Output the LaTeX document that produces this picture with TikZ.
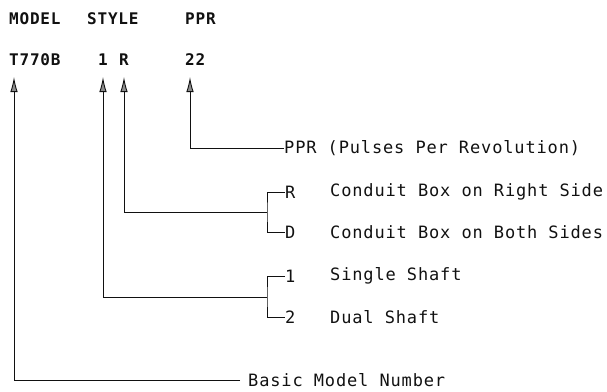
\documentclass[tikz,border=0pt]{standalone}
\usepackage{fontspec}
\usepackage{tikz}
\usetikzlibrary{positioning,arrows.meta,calc}
\newfontfamily\dotfont[LetterSpace=5]{DejaVu Sans Mono}
\newfontfamily\headfont[LetterSpace=5]{DejaVu Sans Mono Bold}
\definecolor{ink}{HTML}{111111}
\definecolor{tipfill}{HTML}{8C8C8C}

\begin{document}
\begin{tikzpicture}[x=1pt,y=1pt,font=\dotfont\fontsize{17}{19}\selectfont,
  head/.style={anchor=west,inner sep=0pt,font=\headfont\fontsize{16}{18}\selectfont,text=ink},
  code/.style={anchor=west,inner sep=0pt,text=ink},
  ln/.style={draw=ink,line width=0.9pt},
  ar/.style={ln,-{Latex[length=15pt,width=7.5pt,fill=tipfill]}}]
\useasboundingbox (0,0) rectangle (607,-391);
% header row and example code
\node[head] (hmodel) at (9,-19) {MODEL};
\node[head] (hstyle) at (87,-19) {STYLE};
\node[head] (hppr) at (185,-19) {PPR};
\node[head] (model) at (9,-60) {T770B};
\node[head] (sty1) at (98,-60) {1};
\node[head] (styR) at (119,-60) {R};
\node[head] (pprv) at (185,-60) {22};
\coordinate (tmodel) at (14,-77);
\coordinate (tsty1) at (103,-77);
\coordinate (tstyR) at (124,-77);
\coordinate (tppr) at (190,-77);
% option labels
\node[code] (pprtxt) at (284,-148) {PPR (Pulses Per Revolution)};
\node[code] (optR) at (285,-192) {R};
\node[code] (optD) at (285,-232) {D};
\node[code] (opt1) at (285,-276) {1};
\node[code] (opt2) at (285,-317) {2};
\node[code] (descR) at (330,-192) {Conduit Box on Right Side};
\node[code] (descD) at (330,-232) {Conduit Box on Both Sides};
\node[code] (desc1) at (330,-276) {Single Shaft};
\node[code] (desc2) at (330,-317) {Dual Shaft};
\node[code,inner xsep=8pt] (basic) at (240,-380) {Basic Model Number};
\coordinate (brR) at (267,-212);
\coordinate (br1) at (267,-297);
% brackets and leaders
\draw[ln] (optR.west) -| (brR) |- (optD.west);
\draw[ln] (opt1.west) -| (br1) |- (opt2.west);
\draw[ar] (pprtxt.west) -| (tppr);
\draw[ar] (brR) -| (tstyR);
\draw[ar] (br1) -| (tsty1);
\draw[ar] (basic.west) -| (tmodel);
\end{tikzpicture}
\end{document}
